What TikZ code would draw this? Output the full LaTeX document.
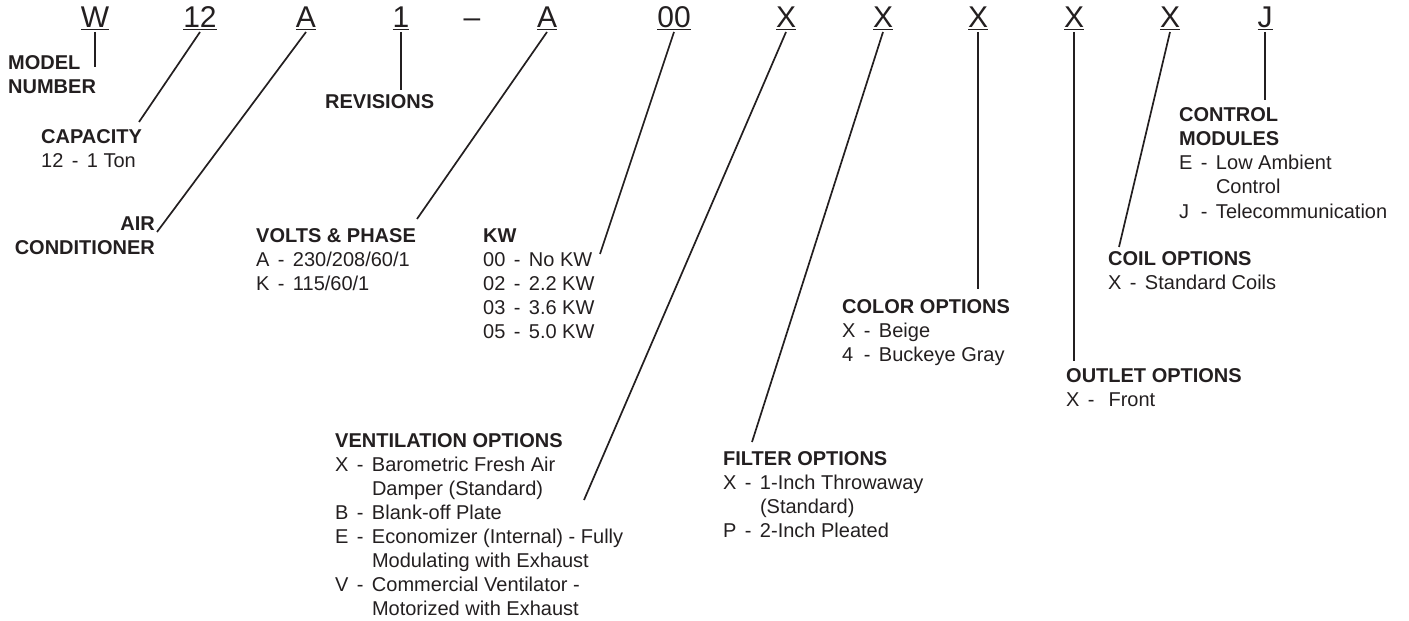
\documentclass[tikz,border=0pt]{standalone}
\usepackage{fontspec}
\setmainfont{Liberation Sans}
\usetikzlibrary{positioning}
\definecolor{mnInk}{HTML}{231F20}
\newcommand{\mnlist}[1]{\begin{tabular}[t]{@{}l@{\hspace{.42em}}l@{\hspace{.42em}}l@{}}#1\end{tabular}}
\newcommand{\mnhead}[1]{\multicolumn{3}{@{}l@{}}{\bfseries #1}}
\newcommand{\mnopt}[2]{#1 & - & #2}
\newcommand{\mnstack}[2][l]{\begin{tabular}[t]{@{}#1@{}}#2\end{tabular}}
\tikzset{
  mn code/.style={font=\fontsize{30bp}{30bp}\selectfont, text=mnInk,
    inner sep=0pt, outer sep=0pt, text depth=0pt, anchor=base},
  mn rule/.style={draw=mnInk, line width=1.3bp},
  mn lead/.style={draw=mnInk, line width=1.7bp},
  mn block/.style={font=\fontsize{20bp}{24bp}\selectfont, text=mnInk,
    inner sep=0pt, anchor=base west},
  mn title/.style={mn block, font=\fontsize{20bp}{24bp}\selectfont\bfseries}
}

\begin{document}
\begin{tikzpicture}[x=1bp,y=-1bp]
  \useasboundingbox (0,0) rectangle (1409,621);

  % model number letters
  \foreach \n/\x/\txt in {cW/95/W, c12/200/12, cAir/306/A, cRev/401/1,
      cVolt/547/A, cKw/674/00, cVent/786/X, cFilt/883/X, cColor/978/X,
      cOutlet/1074/X, cCoil/1170/X, cCtl/1265/J} {
    \node[mn code] (\n) at (\x,28) {\txt};
    \draw[mn rule] ([yshift=-1.5bp]\n.south west) -- ([yshift=-1.5bp]\n.south east);
  }
  \node[mn code] (cDash) at (472,28) {--};

  % descriptions
  \node[mn title] (model) at (8,70) {\mnstack{MODEL\\NUMBER}};
  \node[mn block] (capacity) at (41,144) {\mnlist{\mnhead{CAPACITY}\\ \mnopt{12}{1 Ton}}};
  \node[mn title, anchor=base east] (aircond) at (155,230) {\mnstack[r]{AIR\\CONDITIONER}};
  \node[mn title] (revisions) at (325,109) {REVISIONS};
  \node[mn block] (volts) at (256,242)
    {\mnlist{\mnhead{VOLTS \& PHASE}\\ \mnopt{A}{230/208/60/1}\\ \mnopt{K}{115/60/1}}};
  \node[mn block] (kw) at (483,242)
    {\mnlist{\mnhead{KW}\\ \mnopt{00}{No KW}\\ \mnopt{02}{2.2 KW}\\
      \mnopt{03}{3.6 KW}\\ \mnopt{05}{5.0 KW}}};
  \node[mn block] (vent) at (335,447)
    {\mnlist{\mnhead{VENTILATION OPTIONS}\\
      \mnopt{X}{Barometric Fresh Air}\\ & & Damper (Standard)\\
      \mnopt{B}{Blank-off Plate}\\
      \mnopt{E}{Economizer (Internal) - Fully}\\ & & Modulating with Exhaust\\
      \mnopt{V}{Commercial Ventilator -}\\ & & Motorized with Exhaust}};
  \node[mn block] (filter) at (723,465)
    {\mnlist{\mnhead{FILTER OPTIONS}\\
      \mnopt{X}{1-Inch Throwaway}\\ & & (Standard)\\ \mnopt{P}{2-Inch Pleated}}};
  \node[mn block] (color) at (842,313)
    {\mnlist{\mnhead{COLOR OPTIONS}\\ \mnopt{X}{Beige}\\ \mnopt{4}{Buckeye Gray}}};
  \node[mn block] (outlet) at (1066,382)
    {\mnlist{\mnhead{OUTLET OPTIONS}\\ \mnopt{X}{\ Front}}};
  \node[mn block] (coil) at (1108,265)
    {\mnlist{\mnhead{COIL OPTIONS}\\ \mnopt{X}{Standard Coils}}};
  \node[mn block] (control) at (1179,122)
    {\mnlist{\mnhead{CONTROL}\\ \mnhead{MODULES}\\
      \mnopt{E}{Low Ambient}\\ & & Control\\ \mnopt{J}{Telecommunication}}};

  % leader ends
  \coordinate (wEnd) at (95,67);
  \coordinate (capEnd) at (139,122);
  \coordinate (airEnd) at (157,232);
  \coordinate (revEnd) at (401,90);
  \coordinate (voltEnd) at (417,219);
  \coordinate (kwEnd) at (600,254);
  \coordinate (ventEnd) at (584,500);
  \coordinate (filtEnd) at (752,442);
  \coordinate (colorEnd) at (978,289);
  \coordinate (outletEnd) at (1074,361);
  \coordinate (coilEnd) at (1119,247);
  \coordinate (ctlEnd) at (1265,100);

  % leaders
  \foreach \n/\e in {cW/wEnd, c12/capEnd, cAir/airEnd, cRev/revEnd,
      cVolt/voltEnd, cKw/kwEnd, cVent/ventEnd, cFilt/filtEnd,
      cColor/colorEnd, cOutlet/outletEnd, cCoil/coilEnd, cCtl/ctlEnd}
    \draw[mn lead] ([yshift=-4bp]\n.south) -- (\e);
\end{tikzpicture}
\end{document}
